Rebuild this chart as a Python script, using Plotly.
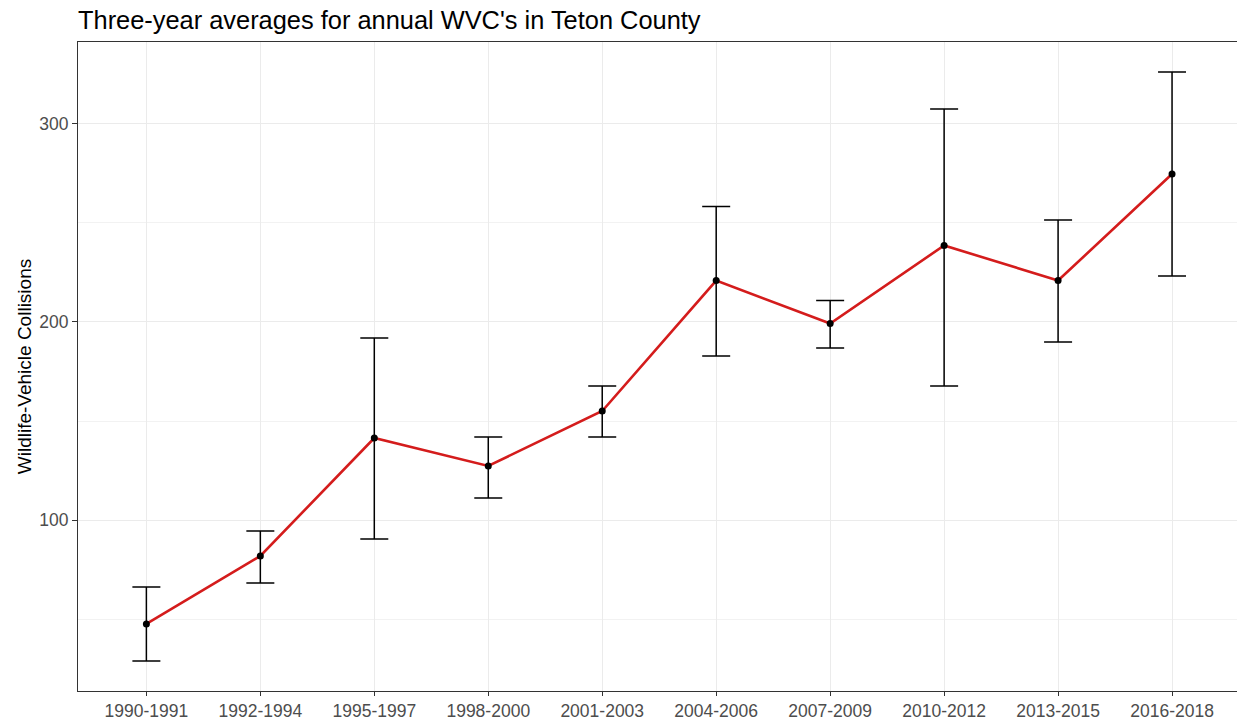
import plotly.graph_objects as go

periods = ["1990-1991", "1992-1994", "1995-1997", "1998-2000", "2001-2003",
           "2004-2006", "2007-2009", "2010-2012", "2013-2015", "2016-2018"]
avg = [47.7, 82.0, 141.5, 127.4, 155.1, 220.9, 199.2, 238.6, 220.9, 274.6]
upper = [66.3, 94.6, 191.9, 142.0, 167.7, 258.2, 210.8, 307.4, 251.4, 326.1]
lower = [29.0, 68.4, 90.5, 111.2, 142.0, 182.8, 186.9, 167.7, 189.9, 223.2]

err_plus = [u - a for u, a in zip(upper, avg)]
err_minus = [a - l for a, l in zip(avg, lower)]
xi = list(range(len(periods)))

fig = go.Figure()
fig.add_trace(go.Scatter(
    x=xi, y=avg, mode="markers", marker=dict(size=1, color="rgba(0,0,0,0)"),
    error_y=dict(type="data", symmetric=False, array=err_plus, arrayminus=err_minus,
                 color="black", thickness=1.5, width=14),
    showlegend=False, hoverinfo="skip"))
fig.add_trace(go.Scatter(
    x=xi, y=avg, mode="lines", line=dict(color="#d41c1c", width=2.6),
    showlegend=False))
fig.add_trace(go.Scatter(
    x=xi, y=avg, mode="markers", marker=dict(color="black", size=7),
    showlegend=False))

fig.update_layout(
    width=1237, height=722,
    paper_bgcolor="white", plot_bgcolor="white",
    margin=dict(l=78, r=0, t=42, b=31, autoexpand=False),
    font=dict(family="Liberation Sans, Arial, sans-serif"),
    title=dict(text="Three-year averages for annual WVC's in Teton County",
               x=78/1237, xref="container", xanchor="left",
               y=1-20/722, yref="container", yanchor="middle",
               font=dict(size=25.4, color="black")),
)
fig.update_xaxes(
    range=[-0.6, 9.57], tickmode="array", tickvals=xi, ticktext=periods,
    showgrid=True, gridcolor="#ebebeb", gridwidth=1,
    showline=True, linecolor="#333333", linewidth=1.2, mirror=True,
    ticks="outside", ticklen=4, tickcolor="#333333",
    tickfont=dict(size=17.5, color="#4d4d4d"), zeroline=False)
fig.update_yaxes(
    range=[13.9, 341.2], tickvals=[100, 200, 300],
    showgrid=True, gridcolor="#ebebeb", gridwidth=1,
    minor=dict(tickvals=[50, 150, 250], showgrid=True, gridcolor="#f2f2f2", gridwidth=1),
    showline=True, linecolor="#333333", linewidth=1.2,
    ticks="outside", ticklen=5, tickcolor="#333333",
    tickfont=dict(size=17.5, color="#4d4d4d"), zeroline=False,
    title=dict(text="Wildlife-Vehicle Collisions", font=dict(size=19, color="black"),
               standoff=2))

fig.write_html("out.html", config={"displayModeBar": False},
               post_script="document.body.style.margin='0px';")
